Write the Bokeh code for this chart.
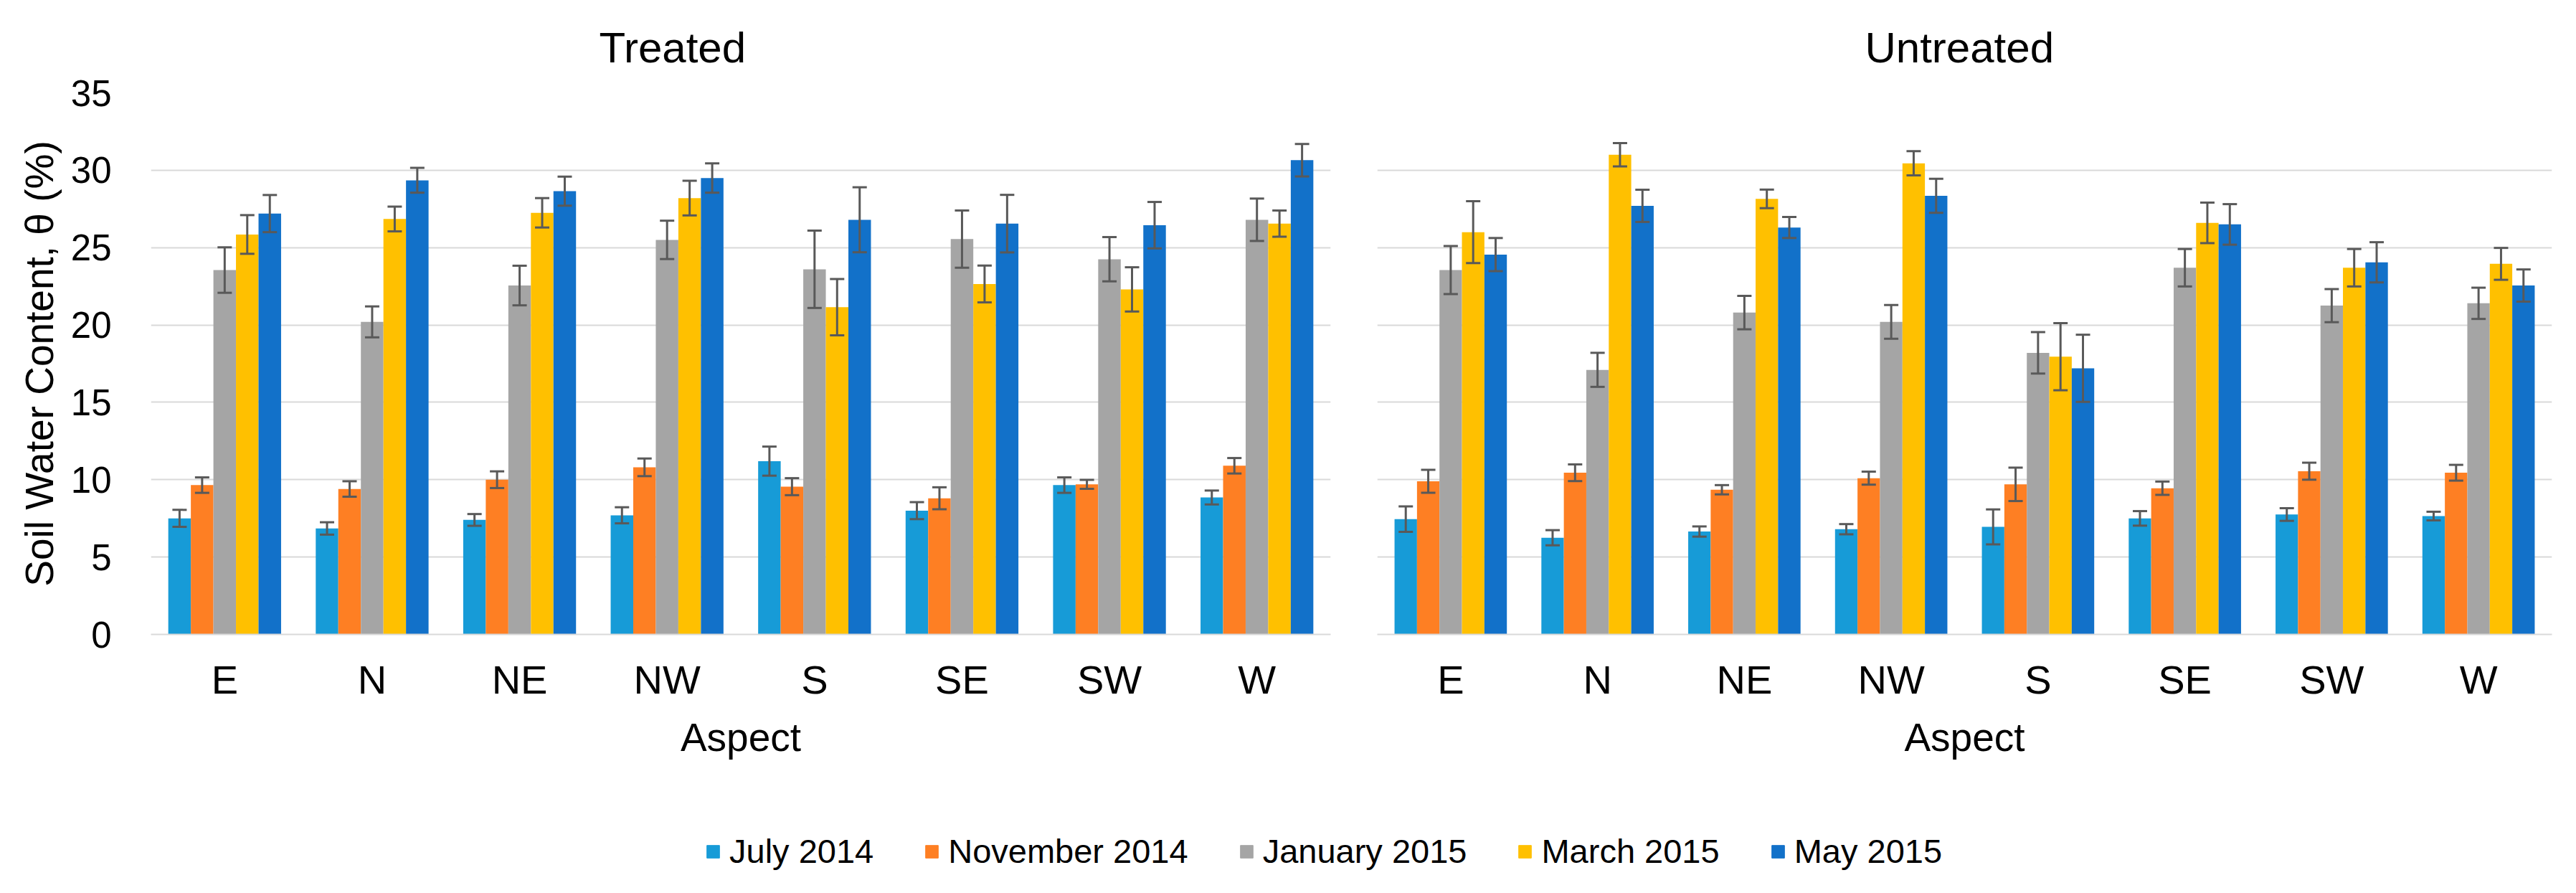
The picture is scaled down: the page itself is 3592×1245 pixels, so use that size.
from bokeh.plotting import figure
from bokeh.models import (ColumnDataSource, FactorRange, Range1d, Whisker, TeeHead,
                          Legend, LegendItem, SingleIntervalTicker)
from bokeh.transform import dodge
from bokeh.layouts import row, column
from bokeh.embed import file_html
from bokeh.resources import INLINE

# ---------------- data ----------------
aspects = ["E", "N", "NE", "NW", "S", "SE", "SW", "W"]
series_names = ["July 2014", "November 2014", "January 2015", "March 2015", "May 2015"]

# Treated: mean soil water content (%)
treated_jul = [7.5, 6.85, 7.4, 7.7, 11.2, 8.0, 9.65, 8.85]
treated_nov = [9.65, 9.4, 10.0, 10.8, 9.55, 8.8, 9.7, 10.9]
treated_jan = [23.55, 20.2, 22.55, 25.5, 23.6, 25.55, 24.25, 26.8]
treated_mar = [25.85, 26.85, 27.25, 28.2, 21.15, 22.65, 22.3, 26.55]
treated_may = [27.2, 29.35, 28.65, 29.5, 26.8, 26.55, 26.45, 30.65]
# Treated: error (+/-)
treated_jul_err = [0.55, 0.4, 0.38, 0.52, 0.94, 0.55, 0.5, 0.45]
treated_nov_err = [0.5, 0.5, 0.54, 0.57, 0.55, 0.71, 0.29, 0.5]
treated_jan_err = [1.47, 1.0, 1.28, 1.24, 2.5, 1.85, 1.43, 1.37]
treated_mar_err = [1.25, 0.8, 0.95, 1.12, 1.82, 1.19, 1.43, 0.85]
treated_may_err = [1.2, 0.8, 0.94, 0.95, 2.1, 1.86, 1.5, 1.05]

# Untreated: mean soil water content (%)
untreated_jul = [7.45, 6.25, 6.65, 6.8, 6.95, 7.5, 7.75, 7.65]
untreated_nov = [9.9, 10.45, 9.35, 10.1, 9.7, 9.45, 10.55, 10.45]
untreated_jan = [23.55, 17.1, 20.8, 20.2, 18.2, 23.7, 21.25, 21.4]
untreated_mar = [26.0, 31.0, 28.15, 30.45, 17.95, 26.6, 23.7, 23.95]
untreated_may = [24.55, 27.7, 26.3, 28.35, 17.2, 26.5, 24.05, 22.55]
# Untreated: error (+/-)
untreated_jul_err = [0.82, 0.49, 0.33, 0.33, 1.13, 0.47, 0.41, 0.28]
untreated_nov_err = [0.74, 0.54, 0.3, 0.42, 1.08, 0.43, 0.55, 0.51]
untreated_jan_err = [1.55, 1.1, 1.08, 1.09, 1.34, 1.21, 1.07, 1.01]
untreated_mar_err = [2.0, 0.75, 0.6, 0.78, 2.17, 1.31, 1.21, 1.03]
untreated_may_err = [1.07, 1.04, 0.68, 1.1, 2.17, 1.31, 1.3, 1.04]

y_ticks_interval = 5

# ---------------- style ----------------
colors = ["#179bd7", "#fe7f23", "#a5a5a5", "#ffc000", "#1271c9"]
offsets = [-0.306, -0.153, 0.0, 0.153, 0.306]
bar_w = 0.153
FONT = "Liberation Sans"
GRID = "#d9d9d9"
ERR = "#595959"


def make_panel(title, means, errs, width, left, right, title_offset, show_y):
    p = figure(x_range=FactorRange(factors=aspects, range_padding=0),
               y_range=Range1d(0, 35), width=width, height=1100,
               output_backend="svg", toolbar_location=None,
               min_border_left=left, min_border_right=right,
               min_border_top=121, min_border_bottom=216)
    data = dict(aspect=aspects)
    for k, (m, e) in enumerate(zip(means, errs)):
        data[f"m{k}"] = m
        data[f"u{k}"] = [a + b for a, b in zip(m, e)]
        data[f"l{k}"] = [a - b for a, b in zip(m, e)]
    src = ColumnDataSource(data)
    for k in range(len(means)):
        p.vbar(x=dodge("aspect", offsets[k], range=p.x_range), top=f"m{k}", bottom=0,
               width=bar_w, source=src, fill_color=colors[k], line_color=None)
    for k in range(len(means)):
        w = Whisker(source=src, base=dodge("aspect", offsets[k], range=p.x_range),
                    upper=f"u{k}", lower=f"l{k}", line_color=ERR, line_width=3,
                    upper_head=TeeHead(size=20, line_color=ERR, line_width=3),
                    lower_head=TeeHead(size=20, line_color=ERR, line_width=3),
                    level="overlay")
        p.add_layout(w)

    p.title.text = title
    p.title.align = "left"
    p.title.offset = title_offset
    p.title.text_font = FONT
    p.title.text_font_size = "60px"
    p.title.text_font_style = "normal"
    p.title.text_color = "black"
    p.title.standoff = 60

    p.xaxis.axis_label = "Aspect"
    p.xaxis.axis_label_text_font = FONT
    p.xaxis.axis_label_text_font_size = "55px"
    p.xaxis.axis_label_text_font_style = "normal"
    p.xaxis.axis_label_text_color = "black"
    p.xaxis.axis_label_standoff = 15
    p.xaxis.major_label_text_font = FONT
    p.xaxis.major_label_text_font_size = "56px"
    p.xaxis.major_label_text_color = "black"
    p.xaxis.major_label_standoff = 31
    p.xaxis.major_tick_line_color = None
    p.xaxis.minor_tick_line_color = None
    p.xaxis.major_tick_out = 0
    p.xaxis.major_tick_in = 0
    p.xaxis.axis_line_color = GRID
    p.xaxis.axis_line_width = 2

    p.yaxis.ticker = SingleIntervalTicker(interval=y_ticks_interval)
    p.yaxis.axis_line_color = None
    p.yaxis.major_tick_line_color = None
    p.yaxis.minor_tick_line_color = None
    p.yaxis.major_tick_out = 0
    p.yaxis.major_tick_in = 0
    p.yaxis.major_label_standoff = 51
    p.yaxis.major_label_text_font = FONT
    p.yaxis.major_label_text_font_size = "51px"
    p.yaxis.major_label_text_color = "black"
    p.yaxis.axis_label = "Soil Water Content, θ (%)"
    p.yaxis.axis_label_text_font = FONT
    p.yaxis.axis_label_text_font_size = "55px"
    p.yaxis.axis_label_text_font_style = "normal"
    p.yaxis.axis_label_text_color = "black"
    p.yaxis.axis_label_standoff = 10
    if not show_y:
        p.yaxis.visible = False

    p.xgrid.grid_line_color = None
    p.ygrid.grid_line_color = GRID
    p.ygrid.grid_line_width = 2
    p.outline_line_color = None
    p.background_fill_color = "white"
    p.border_fill_color = "white"
    return p


p1 = make_panel("Treated",
                [treated_jul, treated_nov, treated_jan, treated_mar, treated_may],
                [treated_jul_err, treated_nov_err, treated_jan_err, treated_mar_err, treated_may_err],
                width=1890, left=210, right=35, title_offset=625, show_y=True)
p2 = make_panel("Untreated",
                [untreated_jul, untreated_nov, untreated_jan, untreated_mar, untreated_may],
                [untreated_jul_err, untreated_nov_err, untreated_jan_err, untreated_mar_err, untreated_may_err],
                width=1686, left=30, right=18, title_offset=680, show_y=False)

# legend strip (swatch renderers sit outside the visible range)
pl = figure(width=3576, height=129, x_range=Range1d(0, 1), y_range=Range1d(0, 1),
            output_backend="svg", toolbar_location=None, min_border=0)
pl.axis.visible = False
pl.grid.visible = False
pl.outline_line_color = None
items = []
for name, c in zip(series_names, colors):
    r = pl.vbar(x=[-5], top=[-4], bottom=[-5], width=0.1, fill_color=c, line_color=c)
    items.append(LegendItem(label=name, renderers=[r]))
leg = Legend(items=items, orientation="horizontal", location=(983, 15),
             label_text_font=FONT, label_text_font_size="47px", label_text_color="black",
             glyph_width=22, glyph_height=22, label_standoff=12, spacing=70,
             padding=0, margin=0, border_line_color=None, background_fill_alpha=0,
             label_height=50)
pl.add_layout(leg, "center")

layout = column(row(p1, p2), pl)
open("out.html", "w").write(file_html(layout, INLINE))
